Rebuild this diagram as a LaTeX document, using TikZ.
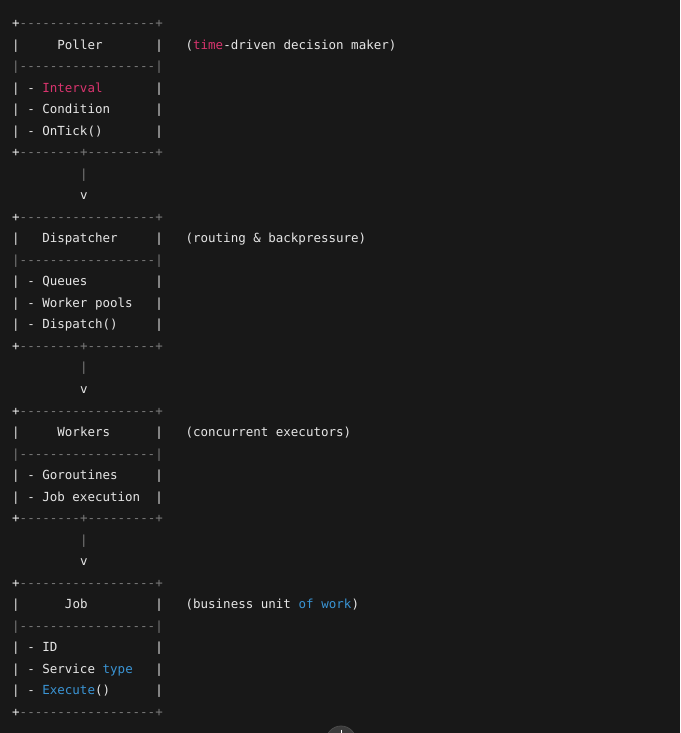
\documentclass[tikz,border=0pt]{standalone}
\usepackage{fontspec}
\newfontfamily\codefont{DejaVu Sans Mono}[Ligatures=TeXOff]
\definecolor{bg}{HTML}{181818}
\definecolor{fg}{HTML}{E6E6E6}
\definecolor{dim}{HTML}{7A7A7A}
\definecolor{pink}{HTML}{D9346E}
\definecolor{blu}{HTML}{3A94D4}
\newcommand\dsh[1]{\foreach\i in {1,...,#1}{-}}
% \seg{name}{col}{row}{color}{text}
\newcommand\seg[5]{\node[txt,text=#4] (#1) at ({12.2+7.54*(#2)},{-(27.5+21.53*(#3))}) {#5};}
\newcommand\topline[2]{% name, row
  \seg{#1a}{0}{#2}{fg}{+}\seg{#1b}{1}{#2}{dim}{\dsh{18}}\seg{#1c}{19}{#2}{dim}{+}}
\newcommand\sepline[2]{%
  \seg{#1a}{0}{#2}{dim}{|}\seg{#1b}{1}{#2}{dim}{\dsh{18}}\seg{#1c}{19}{#2}{dim}{|}}
\newcommand\botline[2]{%
  \seg{#1a}{0}{#2}{fg}{+}\seg{#1b}{1}{#2}{dim}{\dsh{8}}\seg{#1c}{9}{#2}{dim}{+}\seg{#1d}{10}{#2}{dim}{\dsh{9}}\seg{#1e}{19}{#2}{dim}{+}}
\newcommand\pipes[2]{%
  \seg{#1l}{0}{#2}{fg}{|}\seg{#1r}{19}{#2}{fg}{|}}
\newcommand\entry[3]{% name,row,text
  \pipes{#1}{#2}\seg{#1d}{2}{#2}{fg}{-}\seg{#1t}{4}{#2}{fg}{#3}}
\newcommand\arrowdown[3]{%
  \seg{#1p}{9}{#2}{dim}{|}\seg{#1v}{9}{#3}{fg}{v}}
\begin{document}
\begin{tikzpicture}[x=1pt,y=1pt,
  txt/.style={inner sep=0pt,outer sep=0pt,anchor=base west,font=\codefont\fontsize{12.5}{15}\selectfont}]
\fill[bg] (0,0) rectangle (680,-733);
\useasboundingbox (0,0) rectangle (680,-733);
% Poller
\topline{pt}{0}
\pipes{ph}{1}\seg{pn}{6}{1}{fg}{Poller}
\seg{pc1}{23}{1}{fg}{(}\seg{pc2}{24}{1}{pink}{time}\seg{pc3}{28}{1}{fg}{-driven decision maker)}
\sepline{ps}{2}
\pipes{pi1}{3}\seg{pi1d}{2}{3}{fg}{-}\seg{pi1t}{4}{3}{pink}{Interval}
\entry{pi2}{4}{Condition}
\entry{pi3}{5}{OnTick()}
\botline{pb}{6}
\arrowdown{a1}{7}{8}
% Dispatcher
\topline{dt}{9}
\pipes{dh}{10}\seg{dn}{4}{10}{fg}{Dispatcher}
\seg{dc}{23}{10}{fg}{(routing \& backpressure)}
\sepline{ds}{11}
\entry{di1}{12}{Queues}
\entry{di2}{13}{Worker pools}
\entry{di3}{14}{Dispatch()}
\botline{db}{15}
\arrowdown{a2}{16}{17}
% Workers
\topline{wt}{18}
\pipes{wh}{19}\seg{wn}{6}{19}{fg}{Workers}
\seg{wc}{23}{19}{fg}{(concurrent executors)}
\sepline{ws}{20}
\entry{wi1}{21}{Goroutines}
\entry{wi2}{22}{Job execution}
\botline{wb}{23}
\arrowdown{a3}{24}{25}
% Job
\topline{jt}{26}
\pipes{jh}{27}\seg{jn}{7}{27}{fg}{Job}
\seg{jc1}{23}{27}{fg}{(business unit}\seg{jc2}{38}{27}{blu}{of work}\seg{jc3}{45}{27}{fg}{)}
\sepline{js}{28}
\entry{ji1}{29}{ID}
\pipes{ji2}{30}\seg{ji2d}{2}{30}{fg}{-}\seg{ji2t}{4}{30}{fg}{Service}\seg{ji2u}{12}{30}{blu}{type}
\pipes{ji3}{31}\seg{ji3d}{2}{31}{fg}{-}\seg{ji3t}{4}{31}{blu}{Execute}\seg{ji3u}{11}{31}{fg}{()}
\topline{jb}{32}
% scroll button
\node[circle,minimum size=30pt,fill=bg!85!white,draw=white!22!bg,line width=0.8pt] (btn) at (341,-741) {};
\draw[white,line width=1pt] (341,-729.5) -- (341,-733);
\end{tikzpicture}
\end{document}
